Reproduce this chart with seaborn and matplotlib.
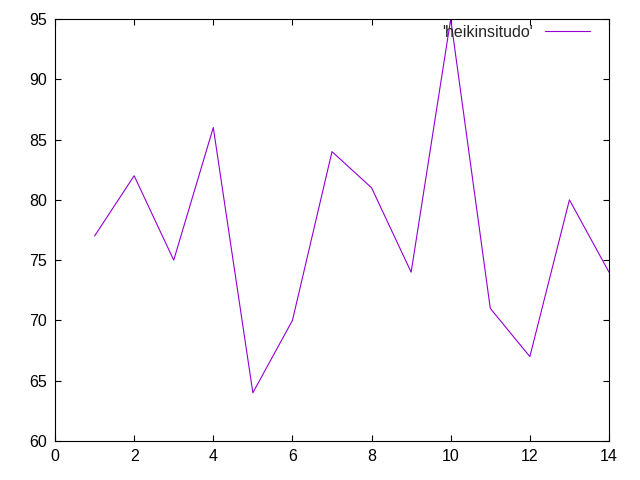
import matplotlib
matplotlib.use('Agg')
from matplotlib import pyplot as plt
import seaborn as sns
import pandas as pd

# Data
x_vals = [1, 2, 3, 4, 5, 6, 7, 8, 9, 10, 11, 12, 13, 14]
heikinsitudo = [77, 82, 75, 86, 64, 70, 84, 81, 74, 95, 71, 67, 80, 74]
x_ticks = [0, 2, 4, 6, 8, 10, 12, 14]
y_ticks = [60, 65, 70, 75, 80, 85, 90, 95]

df = pd.DataFrame({'x': x_vals, 'y': heikinsitudo})

sns.set_style('ticks')
plt.rcParams['font.family'] = ['Liberation Sans', 'DejaVu Sans']

fig = plt.figure(figsize=(6.4, 4.8), dpi=100)
ax = fig.add_axes([55 / 640, 1 - 441 / 480, (609 - 55) / 640, (441 - 19) / 480])

sns.lineplot(data=df, x='x', y='y', ax=ax, color='#9400D3', linewidth=0.8,
             label="'heikinsitudo'")

ax.set_xlim(0, 14)
ax.set_ylim(60, 95)
ax.set_xticks(x_ticks)
ax.set_yticks(y_ticks)
ax.set_xlabel('')
ax.set_ylabel('')
ax.tick_params(direction='in', length=4, width=0.8, labelsize=11.5, colors='black',
               top=True, right=True, pad=6)
for s in ax.spines.values():
    s.set_visible(True)
    s.set_color('black')
    s.set_linewidth(0.8)

leg = ax.legend(loc='upper right', frameon=False, markerfirst=False,
                fontsize=11.5, handlelength=2.8, handletextpad=0.8,
                borderpad=0, borderaxespad=0, bbox_to_anchor=(0.966, 0.986))

fig.savefig('out.png', dpi=100)
